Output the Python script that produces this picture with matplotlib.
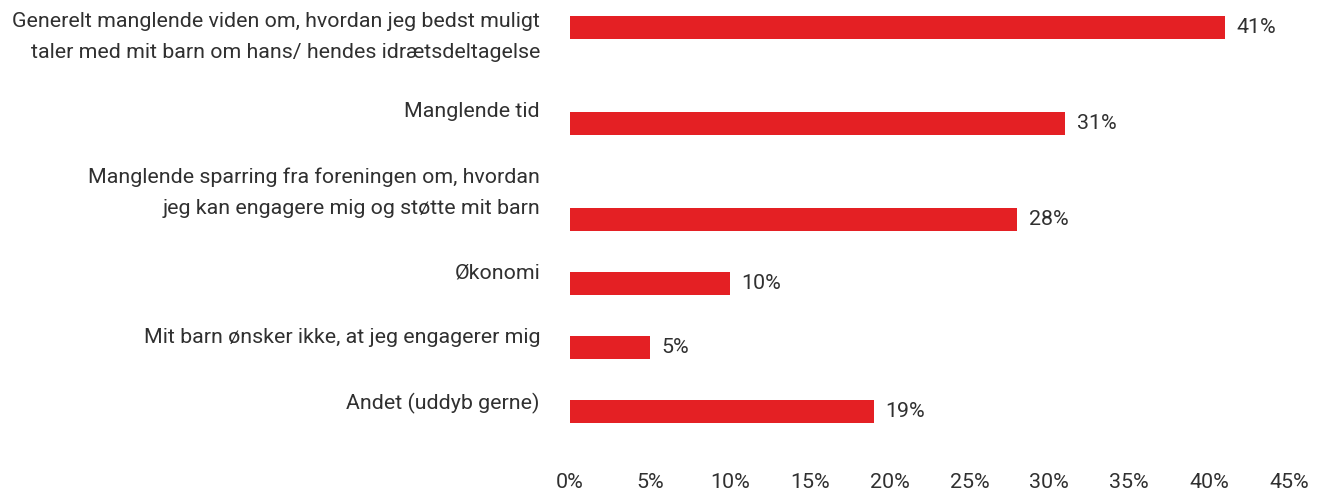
import numpy as np
import matplotlib.pyplot as plt
import matplotlib.transforms as mtransforms

plt.rcParams['font.family'] = ['Roboto', 'DejaVu Sans']

# data
categories = [
    "Generelt manglende viden om, hvordan jeg bedst muligt\ntaler med mit barn om hans/ hendes idrætsdeltagelse",
    "Manglende tid",
    "Manglende sparring fra foreningen om, hvordan\njeg kan engagere mig og støtte mit barn",
    "Økonomi",
    "Mit barn ønsker ikke, at jeg engagerer mig",
    "Andet (uddyb gerne)",
]
values = [41, 31, 28, 10, 5, 19]
xticks = [0, 5, 10, 15, 20, 25, 30, 35, 40, 45]

# layout: rows with two-line labels get more room
row_gap = [0, 1.5, 1.5, 1.0, 1.0, 1.0]
label_shift = [0.15, -0.18, -0.42, -0.16, -0.15, -0.12]
ypos = np.cumsum(row_gap)

RED = '#e42024'
TXT = '#303030'
FS = 15.4

W, H = 1341, 492
fig = plt.figure(figsize=(W / 100, H / 100), dpi=100)
left, right = 570, 1289
ax = fig.add_axes([left / W, 40 / H, (right - left) / W, 452 / H])

ax.barh(ypos, values, height=0.36, color=RED)

for y, v in zip(ypos, values):
    ax.annotate(f"{v}%", (v, y), xytext=(8.5, 0), textcoords='offset points',
                va='center', ha='left', fontsize=FS, color=TXT)

trans = mtransforms.blended_transform_factory(ax.transAxes, ax.transData)
for y, lab, s in zip(ypos, categories, label_shift):
    ax.text(-30 / (right - left), y + s, lab, transform=trans, ha='right',
            va='center', fontsize=FS, color=TXT, linespacing=1.75)

ax.set_xlim(0, 45)
ax.set_ylim(6.633, -0.43)
ax.set_xticks(xticks)
ax.set_xticklabels([f"{t}%" for t in xticks], fontsize=FS, color=TXT)
ax.set_yticks([])
ax.tick_params(axis='x', length=0, pad=15)
for sp in ax.spines.values():
    sp.set_visible(False)

fig.savefig('out.png', dpi=100)
